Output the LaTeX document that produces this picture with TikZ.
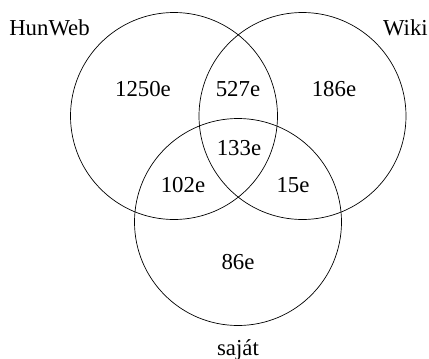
\documentclass[tikz,border=0pt]{standalone}
\usepackage{fontspec}
\setmainfont{Liberation Serif}
\begin{document}
\begin{tikzpicture}[x=1pt,y=-1pt,
  setcircle/.style={draw=black,line width=0.7pt},
  lbl/.style={inner sep=0pt,font=\fontsize{22.8}{26}\selectfont}]
\useasboundingbox (0,0) rectangle (429,359);
\draw[setcircle] (174,116) circle[radius=103.5];
\draw[setcircle] (302.5,116) circle[radius=103.5];
\draw[setcircle] (238,222) circle[radius=103.5];
\node[lbl] (hunweb) at (49.5,28) {HunWeb};
\node[lbl,anchor=east] (wiki) at (428,28) {Wiki};
\node[lbl] (a) at (143,89) {1250e};
\node[lbl] (ab) at (238,89) {527e};
\node[lbl] (b) at (334,89) {186e};
\node[lbl] (abc) at (239,148) {133e};
\node[lbl] (ac) at (183,185) {102e};
\node[lbl] (bc) at (293,185) {15e};
\node[lbl] (c) at (238,262) {86e};
\node[lbl] (sajat) at (238,350) {saját};
\end{tikzpicture}
\end{document}
